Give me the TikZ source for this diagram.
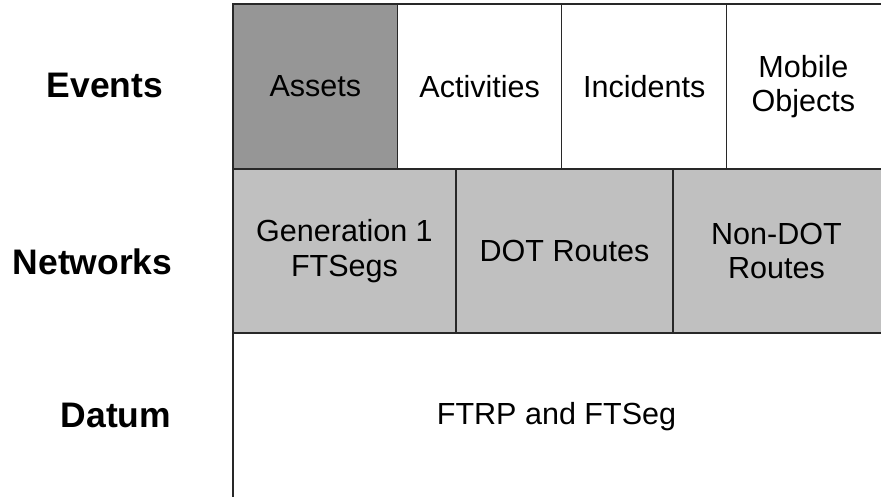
\documentclass[tikz,border=0pt]{standalone}
\usepackage{fontspec}
\setmainfont{Liberation Sans}
\usetikzlibrary{positioning, fit}
\definecolor{cframe}{RGB}{40,40,40}
\definecolor{cassets}{RGB}{150,150,150}
\definecolor{cnet}{RGB}{192,192,192}

\begin{document}
\begin{tikzpicture}[x=0.75pt, y=-0.75pt,
    cell/.style={draw=cframe, line width=0.9pt, inner sep=0pt},
    evcell/.style={cell, fill=white},
    assetcell/.style={cell, fill=cassets},
    netcell/.style={cell, fill=cnet},
    datcell/.style={cell, fill=white},
    celltext/.style={align=center, inner sep=0pt, font=\fontsize{22.9}{25.8}\selectfont},
    layer/.style={font=\fontsize{26.6}{30}\selectfont\bfseries, anchor=base}]

  \useasboundingbox (0,0) rectangle (881,496);

  % --- Events ---
  \node[assetcell, fit={(233,4)(397.7,169)}] (assets) {};
  \node[evcell, fit={(397.7,4)(561.7,169)}] (activities) {};
  \node[evcell, fit={(561.7,4)(726.7,169)}] (incidents) {};
  \node[evcell, fit={(726.7,4)(884,169)}] (mobile) {};
  \node[celltext] (assetsT) at (assets.center) {Assets};
  \node[celltext] (activitiesT) at (activities.center) {Activities};
  \node[celltext] (incidentsT) at (incidents.center) {Incidents};
  \node[celltext] (mobileT) at ([xshift=-1.5]mobile.center) {Mobile\\Objects};

  % --- Networks ---
  \node[netcell, fit={(233,169)(456,333)}] (gen) {};
  \node[netcell, fit={(456,169)(673,333)}] (dot) {};
  \node[netcell, fit={(673,169)(884,333)}] (nondot) {};
  \node[celltext] (genT) at (gen.center) {Generation 1\\FTSegs};
  \node[celltext] (dotT) at (dot.center) {DOT Routes};
  \node[celltext] (nondotT) at ([xshift=-1.5]nondot.center) {Non-DOT\\Routes};

  % --- Datum ---
  \node[datcell, fit={(233,333)(884,500)}] (datum) {};
  \node[celltext] (datumT) at ([xshift=-1.5]datum.center) {FTRP and FTSeg};

  % --- Layer names ---
  \node[layer] (events) at (105,97) {Events};
  \node[layer] (networks) at (92.5,274) {Networks};
  \node[layer] (datumlbl) at (116,427) {Datum};
\end{tikzpicture}
\end{document}
